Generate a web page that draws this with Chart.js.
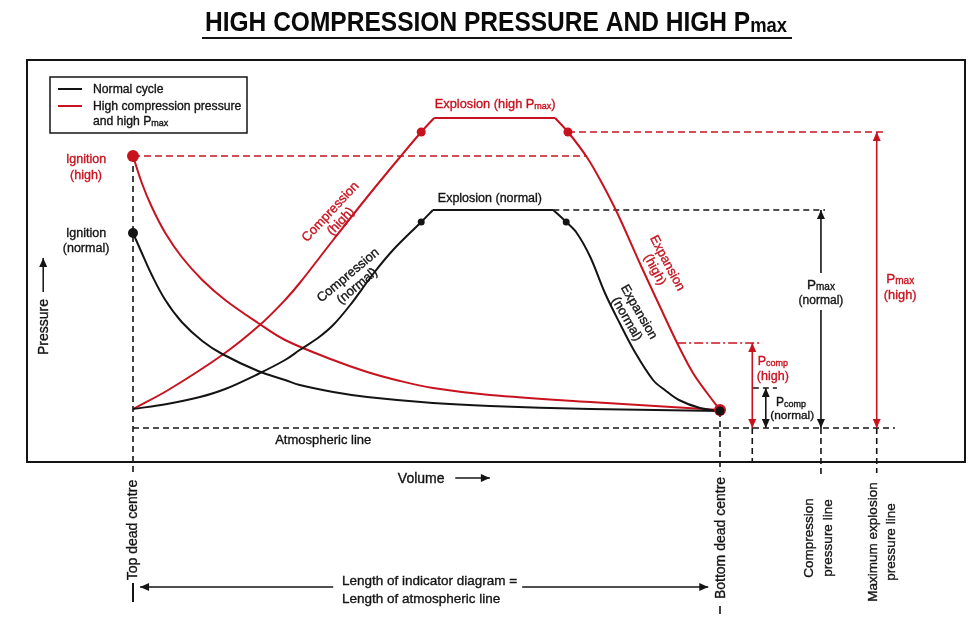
<!DOCTYPE html>
<html>
<head>
<meta charset="utf-8">
<script src="https://cdn.jsdelivr.net/npm/chart.js@4.4.1/dist/chart.umd.min.js"></script>
<style>
  html, body { margin: 0; padding: 0; background: #fff; }
  #wrap { width: 980px; height: 625px; }
</style>
</head>
<body>
<div id="wrap"><canvas id="pv" width="980" height="625"></canvas></div>
<script>
// Volume: 0 = top dead centre, 100 = bottom dead centre
// Pressure: 0 = atmospheric line (arbitrary units)

// expansion curves that start at ignition (left) and fall to BDC
const highIgnExpVol = [0, 1.5, 3.2, 5.5, 8.3, 11.8, 15.7, 21.3, 25.9, 34.1, 39.9, 45.5, 51.1, 60.8, 77.9, 100];
const highIgnExpP   = [68, 61.25, 55.25, 48.75, 42.75, 37, 32, 26.25, 22, 17, 14, 11.75, 10, 8.25, 6.5, 4.5];

const normalIgnExpVol = [0, 1.5, 3.2, 5.5, 8.3, 11.8, 15.2, 21.3, 25.9, 28.4, 34.1, 39.9, 51.1, 60.8, 77.9, 100];
const normalIgnExpP   = [48.75, 43.75, 38.25, 32, 26.5, 21.75, 18.5, 14.25, 12, 10.75, 9, 7.75, 6.25, 5.5, 4.75, 4.25];

// compression, explosion (flat top) and expansion of the high cycle
const highCompVol = [0, 6.0, 15.2, 21.6, 25.9, 28.4, 34.1, 39.9, 45.5, 49.1, 51.3];
const highCompP   = [4.75, 9.5, 18.25, 25.75, 32, 36.25, 47, 57.75, 67.75, 74, 77.5];
const highTopVol  = [51.3, 71.9];
const highTopP    = [77.5, 77.5];
const highDropVol = [71.9, 74.1, 77.3, 79.6, 82.5, 86.4, 89.8, 92.7, 95.4, 97.8, 100];
const highDropP   = [77.5, 74, 67.75, 62, 53.75, 41, 30.25, 21.25, 13.75, 8.75, 4.5];

// same for the normal cycle
const normalCompVol = [0, 5.8, 11.4, 15.7, 21.3, 25.9, 28.4, 31.5, 34.1, 37.0, 40.9, 44.3, 49.1, 51.1];
const normalCompP   = [4.75, 6, 7.75, 9.75, 13.5, 17, 19.5, 22.5, 25.75, 30.75, 38.5, 44.5, 51.5, 54.5];
const normalTopVol  = [51.1, 71.6];
const normalTopP    = [54.5, 54.5];
const normalDropVol = [71.6, 73.8, 75.6, 77.9, 80.4, 82.9, 85.5, 88.6, 90.6, 93.0, 96.6, 100];
const normalDropP   = [54.5, 51.5, 48.75, 42.75, 33.75, 26.25, 19, 12, 9.5, 7, 5, 4.25];

// marked points
const ignitionHigh   = [0, 68];
const ignitionNormal = [0, 48.75];
const highKneeVol    = [49.1, 74.1];
const highKneeP      = [74, 74];
const normalKneeVol  = [49.1, 73.8];
const normalKneeP    = [51.5, 51.5];
const bdcHigh        = [100, 4.5];
const bdcNormal      = [100, 4.25];

// reference pressure levels
const pmaxHighLevel    = 74;
const pmaxNormalLevel  = 54.5;
const pcompHighLevel   = 21.25;
const pcompNormalLevel = 10;

const RED = '#c8131f';
const INK = '#141414';
const FONT = "'Liberation Sans', Arial, sans-serif";

function pts(xs, ys) {
  return xs.map((x, i) => ({ x: x, y: ys[i] }));
}

function line(ctx, x1, y1, x2, y2, color, width, dash) {
  ctx.save();
  ctx.strokeStyle = color;
  ctx.lineWidth = width;
  ctx.setLineDash(dash || []);
  ctx.beginPath();
  ctx.moveTo(x1, y1);
  ctx.lineTo(x2, y2);
  ctx.stroke();
  ctx.restore();
}

function head(ctx, x, y, dir, color) {
  // dir: unit vector the arrow points to
  const len = 9, half = 4;
  const [dx, dy] = dir;
  ctx.save();
  ctx.fillStyle = color;
  ctx.beginPath();
  ctx.moveTo(x, y);
  ctx.lineTo(x - dx * len - dy * half, y - dy * len + dx * half);
  ctx.lineTo(x - dx * len + dy * half, y - dy * len - dx * half);
  ctx.closePath();
  ctx.fill();
  ctx.restore();
}

// text made of [string, isSubscript] parts
function richText(ctx, parts, x, y, align, size, color, weight) {
  const w = weight || 'normal';
  const fontFor = sub => `${w} ${sub ? Math.round(size * 0.74) : size}px ${FONT}`;
  let total = 0;
  parts.forEach(([t, sub]) => { ctx.font = fontFor(sub); total += ctx.measureText(t).width; });
  let cx = align === 'center' ? x - total / 2 : (align === 'right' ? x - total : x);
  ctx.save();
  ctx.fillStyle = color;
  ctx.strokeStyle = color;
  ctx.lineWidth = 0.35;
  ctx.textAlign = 'left';
  ctx.textBaseline = 'alphabetic';
  parts.forEach(([t, sub]) => {
    ctx.font = fontFor(sub);
    const ty = y + size * 0.36 + (sub ? 1 : 0);
    ctx.fillText(t, cx, ty);
    if (w !== 'bold') ctx.strokeText(t, cx, ty);
    cx += ctx.measureText(t).width;
  });
  ctx.restore();
}

function rotated(ctx, lines, cx, cy, deg, color, size, gap) {
  ctx.save();
  ctx.translate(cx, cy);
  ctx.rotate(deg * Math.PI / 180);
  const n = lines.length;
  lines.forEach((ln, i) => {
    const off = (i - (n - 1) / 2) * gap;
    richText(ctx, Array.isArray(ln) ? ln : [[ln, false]], 0, off, 'center', size, color);
  });
  ctx.restore();
}

const notes = {
  id: 'indicatorNotes',
  beforeDatasetsDraw(chart) {
    const ctx = chart.ctx;
    const X = v => chart.scales.x.getPixelForValue(v);
    const Y = v => chart.scales.y.getPixelForValue(v);
    const dash = [6, 4];

    // top / bottom dead centre
    line(ctx, X(0), Y(ignitionHigh[1]), X(0), Y(-11.25), INK, 1.6, dash);
    line(ctx, X(100), Y(bdcNormal[1]), X(100), Y(-11), INK, 1.6, dash);
    // atmospheric line
    line(ctx, X(0), Y(0), X(129.8), Y(0), INK, 1.6, dash);
    // ignition (high) level
    line(ctx, X(0), Y(ignitionHigh[1]), X(77.3), Y(ignitionHigh[1]), RED, 1.6, [7, 4]);
    // pmax levels
    line(ctx, X(74.1), Y(pmaxHighLevel), X(128.1), Y(pmaxHighLevel), RED, 1.6, [7, 4]);
    line(ctx, X(71.6), Y(pmaxNormalLevel), X(117.9), Y(pmaxNormalLevel), INK, 1.6, dash);
    // pcomp levels
    line(ctx, X(92.7), Y(pcompHighLevel), X(107.2), Y(pcompHighLevel), RED, 1.6, [9, 3, 2, 3]);
    line(ctx, X(105.6), Y(pcompNormalLevel), X(109.7), Y(pcompNormalLevel), INK, 1.6, dash);
    // drop lines below the atmospheric line
    line(ctx, X(105.5), Y(0), X(105.5), Y(-8.5), INK, 1.6, dash);
    line(ctx, X(117.2), Y(0), X(117.2), Y(-12), INK, 1.6, dash);
    line(ctx, X(126.7), Y(0), X(126.7), Y(-11.25), INK, 1.6, dash);
  },
  afterDatasetsDraw(chart) {
    const ctx = chart.ctx;
    const X = v => chart.scales.x.getPixelForValue(v);
    const Y = v => chart.scales.y.getPixelForValue(v);
    const a = chart.chartArea;
    const UP = [0, -1], DOWN = [0, 1], LEFT = [-1, 0], RIGHT = [1, 0];

    // frame
    ctx.save();
    ctx.strokeStyle = INK;
    ctx.lineWidth = 2;
    ctx.strokeRect(a.left, a.top, a.right - a.left, a.bottom - a.top);
    ctx.restore();

    // title
    ctx.save();
    const tparts = [['HIGH COMPRESSION PRESSURE AND HIGH P', false], ['max', true]];
    let tw = 0;
    ctx.font = `bold 28px ${FONT}`; tw += ctx.measureText(tparts[0][0]).width;
    ctx.font = `bold 21px ${FONT}`; tw += ctx.measureText(tparts[1][0]).width;
    const sx = 582 / tw;
    ctx.translate(205, 21);
    ctx.scale(sx, 1);
    richText(ctx, tparts, 0, 0, 'left', 28, '#0a0a0a', 'bold');
    ctx.restore();
    line(ctx, 202, 38, 792, 38, INK, 2);

    // legend
    ctx.save();
    ctx.strokeStyle = INK;
    ctx.lineWidth = 1.5;
    ctx.strokeRect(a.left + 23, a.top + 17, 197, 56);
    ctx.restore();
    line(ctx, a.left + 31, a.top + 29, a.left + 55, a.top + 29, INK, 2);
    line(ctx, a.left + 31, a.top + 46, a.left + 55, a.top + 46, RED, 2);
    richText(ctx, [['Normal cycle', false]], a.left + 66, a.top + 29, 'left', 12.2, INK);
    richText(ctx, [['High compression pressure', false]], a.left + 66, a.top + 46, 'left', 12.2, INK);
    richText(ctx, [['and high P', false], ['max', true]], a.left + 66, a.top + 61, 'left', 12.2, INK);

    // ignition labels
    richText(ctx, [['Ignition', false]], X(-8), Y(67.5), 'center', 12.5, RED);
    richText(ctx, [['(high)', false]], X(-8), Y(63.5), 'center', 12.5, RED);
    richText(ctx, [['Ignition', false]], X(-8), Y(49), 'center', 12.5, INK);
    richText(ctx, [['(normal)', false]], X(-8), Y(45.25), 'center', 12.5, INK);

    // explosion labels
    richText(ctx, [['Explosion (high P', false], ['max', true], [')', false]], X(61.7), Y(81.25), 'center', 12.8, RED);
    richText(ctx, [['Explosion (normal)', false]], X(60.8), Y(57.75), 'center', 12.5, INK);

    // curve labels
    rotated(ctx, ['Compression', '(high)'], X(34.4), Y(53), -47, RED, 13, 14);
    rotated(ctx, ['Compression', '(normal)'], X(37.3), Y(37), -40, INK, 13, 14);
    rotated(ctx, ['Expansion', '(high)'], X(90.1), Y(40.5), 62, RED, 13, 14);
    rotated(ctx, ['Expansion', '(normal)'], X(85.3), Y(28.25), 60, INK, 13, 14);

    richText(ctx, [['Atmospheric line', false]], X(32.4), Y(-2.75), 'center', 13, INK);

    // axis names
    rotated(ctx, ['Pressure'], X(-15.3), Y(25.25), -90, INK, 14, 0);
    line(ctx, X(-15.3), Y(34), X(-15.3), Y(42.5), INK, 1.5);
    head(ctx, X(-15.3), Y(42.5), UP, INK);
    richText(ctx, [['Volume', false]], X(49.1), Y(-12.5), 'center', 14, INK);
    line(ctx, X(54.9), Y(-12.5), X(60.8), Y(-12.5), INK, 1.5);
    head(ctx, X(60.8), Y(-12.5), RIGHT, INK);

    // pmax arrows
    line(ctx, X(126.7), Y(pmaxHighLevel), X(126.7), Y(0), RED, 1.6);
    head(ctx, X(126.7), Y(pmaxHighLevel), UP, RED);
    head(ctx, X(126.7), Y(0), DOWN, RED);
    richText(ctx, [['P', false], ['max', true]], X(130.7), Y(37.5), 'center', 13.5, RED);
    richText(ctx, [['(high)', false]], X(130.7), Y(33.5), 'center', 12.8, RED);

    line(ctx, X(117.2), Y(pmaxNormalLevel), X(117.2), Y(38.75), INK, 1.6);
    line(ctx, X(117.2), Y(29.5), X(117.2), Y(0), INK, 1.6);
    head(ctx, X(117.2), Y(pmaxNormalLevel), UP, INK);
    head(ctx, X(117.2), Y(0), DOWN, INK);
    richText(ctx, [['P', false], ['max', true]], X(117.2), Y(36), 'center', 13.5, INK);
    richText(ctx, [['(normal)', false]], X(117.2), Y(32), 'center', 12, INK);

    // pcomp arrows
    line(ctx, X(105.5), Y(pcompHighLevel), X(105.5), Y(0), RED, 1.6);
    head(ctx, X(105.5), Y(pcompHighLevel), UP, RED);
    head(ctx, X(105.5), Y(0), DOWN, RED);
    richText(ctx, [['P', false], ['comp', true]], X(109.0), Y(17), 'center', 12.5, RED);
    richText(ctx, [['(high)', false]], X(109.0), Y(13.25), 'center', 12.5, RED);

    line(ctx, X(107.8), Y(pcompNormalLevel), X(107.8), Y(0), INK, 1.6);
    head(ctx, X(107.8), Y(pcompNormalLevel), UP, INK);
    head(ctx, X(107.8), Y(0), DOWN, INK);
    richText(ctx, [['P', false], ['comp', true]], X(112.1), Y(6.5), 'center', 12, INK);
    richText(ctx, [['(normal)', false]], X(112.3), Y(3.25), 'center', 11.8, INK);

    // below the frame
    rotated(ctx, ['Top dead centre'], X(0) - 1, Y(-25.5), -90, INK, 14, 0);
    line(ctx, X(0), Y(-38.75), X(0), Y(-43.5), INK, 2);
    rotated(ctx, ['Bottom dead centre'], X(100), Y(-27.5), -90, INK, 14, 0);
    line(ctx, X(100), Y(-44.5), X(100), Y(-46.5), INK, 1.6);

    line(ctx, X(34.1), Y(-39.75), X(1.2), Y(-39.75), INK, 1.5);
    head(ctx, X(1.2), Y(-39.75), LEFT, INK);
    line(ctx, X(66.3), Y(-39.75), X(98), Y(-39.75), INK, 1.5);
    head(ctx, X(98), Y(-39.75), RIGHT, INK);
    richText(ctx, [['Length of indicator diagram =', false]], X(35.6), Y(-38), 'left', 13.5, INK);
    richText(ctx, [['Length of atmospheric line', false]], X(35.6), Y(-42.5), 'left', 13.5, INK);

    rotated(ctx, ['Compression', 'pressure line'], X(116.6), Y(-27.5), -90, INK, 13.5, 19);
    rotated(ctx, ['Maximum explosion', 'pressure line'], X(127.4), Y(-28.5), -90, INK, 13.5, 18);
  }
};

const curve = (xs, ys, color) => ({
  data: pts(xs, ys),
  showLine: true,
  borderColor: color,
  borderWidth: 2,
  pointRadius: 0,
  tension: 0.35,
  fill: false
});

const dots = (xs, ys, color, r) => ({
  data: pts(xs, ys),
  showLine: false,
  pointRadius: r,
  pointBackgroundColor: color,
  pointBorderWidth: 0,
  clip: false
});

new Chart(document.getElementById('pv'), {
  type: 'scatter',
  data: {
    datasets: [
      dots([bdcNormal[0]], [bdcNormal[1]], INK, 4.5),
      dots([bdcHigh[0]], [bdcHigh[1]], RED, 6),
      dots(normalKneeVol, normalKneeP, INK, 3.5),
      dots(highKneeVol, highKneeP, RED, 4.5),
      dots([ignitionNormal[0]], [ignitionNormal[1]], INK, 5),
      dots([ignitionHigh[0]], [ignitionHigh[1]], RED, 6),
      curve(normalCompVol, normalCompP, INK),
      curve(normalTopVol, normalTopP, INK),
      curve(normalDropVol, normalDropP, INK),
      curve(normalIgnExpVol, normalIgnExpP, INK),
      curve(highCompVol, highCompP, RED),
      curve(highTopVol, highTopP, RED),
      curve(highDropVol, highDropP, RED),
      curve(highIgnExpVol, highIgnExpP, RED)
    ]
  },
  options: {
    responsive: false,
    animation: false,
    layout: { padding: { left: 27, top: 60, right: 15, bottom: 163 } },
    scales: {
      x: { type: 'linear', min: -18.06, max: 141.74, display: false },
      y: { type: 'linear', min: -8.5, max: 92, display: false }
    },
    plugins: {
      legend: { display: false },
      tooltip: { enabled: false }
    }
  },
  plugins: [notes]
});
</script>
</body>
</html>
